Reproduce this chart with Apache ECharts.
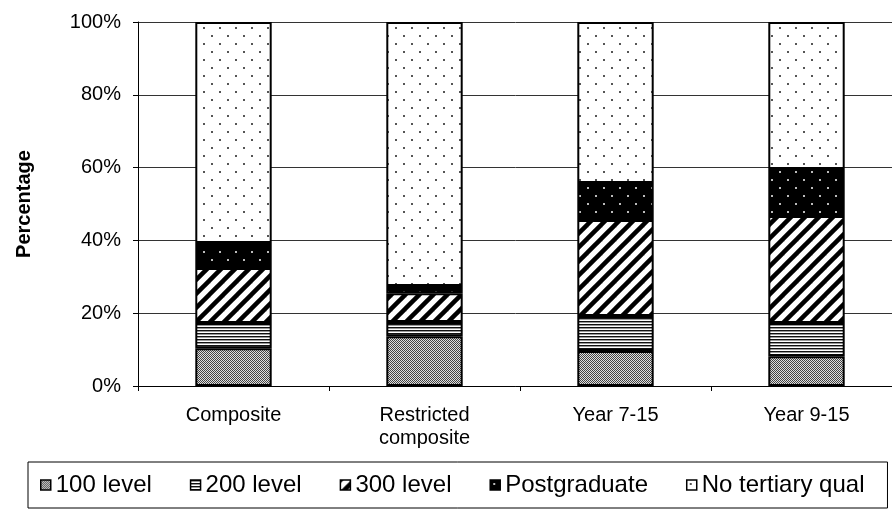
<!DOCTYPE html>
<html><head><meta charset="utf-8">
<script src="https://cdn.jsdelivr.net/npm/echarts@6/dist/echarts.min.js"></script>
<style>html,body{margin:0;padding:0;background:#fff}#c{width:892px;height:511px}</style>
</head><body><div id="c"></div>
<script>
var categories = ['Composite', 'Restricted\ncomposite', 'Year 7-15', 'Year 9-15'];
var seriesNames = ['100 level', '200 level', '300 level', 'Postgraduate', 'No tertiary qual'];
var level100 = [10.4, 13.7, 9.6, 8.2];
var level200 = [6.9, 3.9, 9.6, 9.1];
var level300 = [15.1, 7.9, 26.4, 29.4];
var postgraduate = [6.9, 2.0, 10.2, 12.9];
var noTertiary = [60.7, 72.5, 44.2, 40.4];
var yTicks = [0, 20, 40, 60, 80, 100];

function tile(w, h, draw) {
  var c = document.createElement('canvas');
  c.width = w; c.height = h;
  var g = c.getContext('2d');
  draw(g, w, h);
  return {image: c, repeat: 'repeat'};
}
var pat100 = tile(2, 2, function (g) {
  g.fillStyle = '#e0e0e0'; g.fillRect(0, 0, 2, 2);
  g.fillStyle = '#444'; g.fillRect(0, 0, 1, 1); g.fillRect(1, 1, 1, 1);
});
var pat200 = tile(4, 3, function (g) {
  g.fillStyle = '#fff'; g.fillRect(0, 0, 4, 3);
  g.fillStyle = '#111'; g.fillRect(0, 0, 4, 1);
  g.fillStyle = '#999'; g.fillRect(0, 1, 4, 1);
});
var pat300 = tile(14, 14, function (g) {
  g.fillStyle = '#fff'; g.fillRect(0, 0, 14, 14);
  g.strokeStyle = '#000'; g.lineWidth = 4.5;
  [[-14, 14, 14, -14], [0, 14, 14, 0], [0, 28, 28, 0]].forEach(function (l) {
    g.beginPath(); g.moveTo(l[0], l[1]); g.lineTo(l[2], l[3]); g.stroke();
  });
});
var patPG = tile(16, 16, function (g) {
  g.fillStyle = '#000'; g.fillRect(0, 0, 16, 16);
  g.fillStyle = '#bbb'; g.fillRect(3, 3, 2, 2); g.fillRect(11, 11, 2, 2);
});
var patNo = tile(16, 16, function (g) {
  g.fillStyle = '#fff'; g.fillRect(0, 0, 16, 16);
  g.fillStyle = '#555'; g.fillRect(3, 3, 2, 2); g.fillRect(11, 11, 2, 2);
});
var pats = [pat100, pat200, pat300, patPG, patNo];
var dataArr = [level100, level200, level300, postgraduate, noTertiary];

var chart = echarts.init(document.getElementById('c'), null, {renderer: 'canvas'});
var font = 'Liberation Sans, Arial, sans-serif';
chart.setOption({
  animation: false,
  textStyle: {fontFamily: font},
  grid: {left: 138, top: 22, height: 364, width: 764, containLabel: false, outerBoundsMode: 'none'},
  xAxis: {
    type: 'category', data: categories,
    axisLine: {lineStyle: {color: '#000', width: 1}},
    axisTick: {show: true, length: 5, lineStyle: {color: '#000'}},
    axisLabel: {color: '#000', fontSize: 20, margin: 18, lineHeight: 23, fontFamily: font}
  },
  yAxis: {
    type: 'value', min: 0, max: 100, interval: 20,
    name: 'Percentage', nameLocation: 'middle', nameGap: 104,
    nameTextStyle: {fontWeight: 'bold', fontSize: 20, color: '#000', fontFamily: font},
    axisLine: {show: true, lineStyle: {color: '#000', width: 1}},
    axisTick: {show: true, length: 5, lineStyle: {color: '#000'}},
    axisLabel: {color: '#000', fontSize: 20, margin: 17, fontFamily: font,
      formatter: function (v) { return yTicks.indexOf(v) >= 0 ? v + '%' : ''; }},
    splitLine: {show: true, lineStyle: {color: '#333', width: 1}}
  },
  legend: {
    left: 28, top: 462, data: seriesNames,
    itemWidth: 10, itemHeight: 10, itemGap: 38,
    padding: [11, 23, 11, 12],
    borderColor: '#000', borderWidth: 1,
    textStyle: {color: '#000', fontSize: 24, fontFamily: font},
    itemStyle: {borderWidth: 1.5, borderColor: '#000'},
    icon: 'rect'
  },
  series: dataArr.map(function (d, i) {
    return {
      name: seriesNames[i], type: 'bar', stack: 'total', data: d,
      barWidth: '40%',
      itemStyle: {color: pats[i], borderColor: '#000', borderWidth: 2}
    };
  })
});
</script></body></html>
